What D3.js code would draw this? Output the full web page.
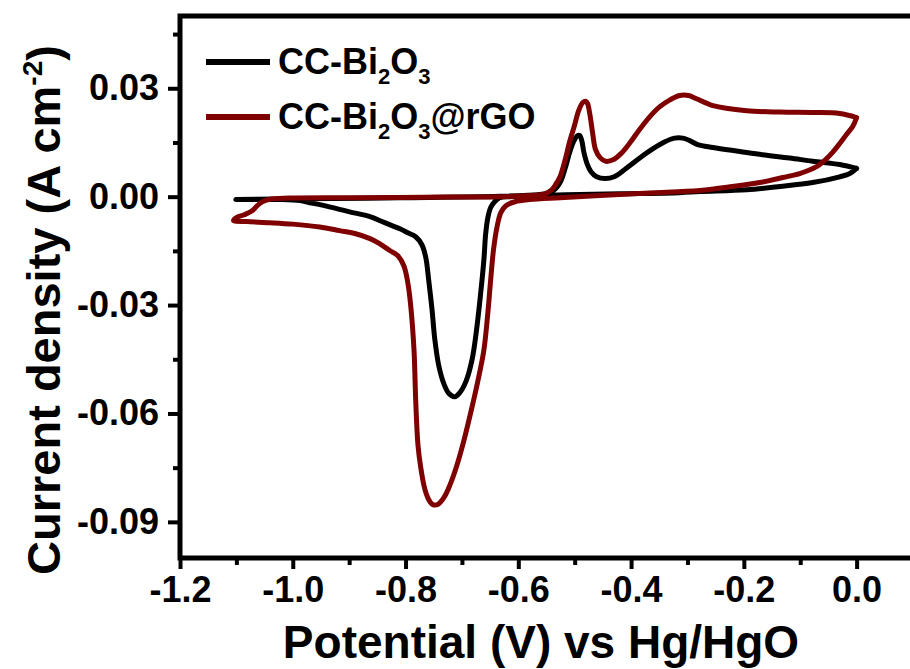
<!DOCTYPE html>
<html>
<head>
<meta charset="utf-8">
<script src="https://cdn.jsdelivr.net/npm/d3@7"></script>
<style>
  body { margin: 0; background: #fff; }
  svg text { font-family: "Liberation Sans", Arial, sans-serif; font-weight: bold; }
</style>
</head>
<body>
<div id="chart"></div>
<script>
// CV loops, [potential (V), current density (A cm-2)]
const bareCathodic = [
  [0.000, 0.0078], [-0.012, 0.0064], [-0.030, 0.0055], [-0.078, 0.0039], [-0.136, 0.0028],
  [-0.195, 0.0019], [-0.278, 0.0014], [-0.314, 0.0011], [-0.420, 0.0008], [-0.491, 0.0006],
  [-0.562, 0.0003], [-0.615, 0.0], [-0.633, -0.0003], [-0.642, -0.0014], [-0.649, -0.0030],
  [-0.654, -0.0058], [-0.658, -0.0105], [-0.661, -0.0174], [-0.667, -0.0271], [-0.674, -0.0368],
  [-0.682, -0.0451], [-0.693, -0.0512], [-0.704, -0.0543], [-0.713, -0.0554], [-0.723, -0.0545],
  [-0.732, -0.0518], [-0.741, -0.0468], [-0.748, -0.0396], [-0.753, -0.0313], [-0.759, -0.0230],
  [-0.764, -0.0169], [-0.771, -0.0133], [-0.782, -0.0111], [-0.796, -0.0100], [-0.810, -0.0089],
  [-0.837, -0.0072], [-0.863, -0.0055], [-0.899, -0.0042], [-0.922, -0.0033], [-0.952, -0.0022],
  [-0.970, -0.0017], [-0.987, -0.0011], [-1.023, -0.0008], [-1.101, -0.0008]
];
const bareAnodic = [
  [-1.101, -0.0007], [-0.987, -0.0006], [-0.810, -0.0003], [-0.633, 0.0001], [-0.562, 0.0006],
  [-0.544, 0.0011], [-0.534, 0.0022], [-0.525, 0.0042], [-0.516, 0.0083], [-0.509, 0.0122],
  [-0.502, 0.0152], [-0.495, 0.0169], [-0.491, 0.0169], [-0.487, 0.0152], [-0.484, 0.0125],
  [-0.478, 0.0091], [-0.471, 0.0069], [-0.461, 0.0055], [-0.446, 0.0050], [-0.430, 0.0055],
  [-0.409, 0.0078], [-0.384, 0.0108], [-0.361, 0.0133], [-0.340, 0.0152], [-0.323, 0.0162],
  [-0.308, 0.0162], [-0.296, 0.0155], [-0.282, 0.0144], [-0.255, 0.0136], [-0.207, 0.0125],
  [-0.167, 0.0116], [-0.119, 0.0107], [-0.078, 0.0098], [-0.030, 0.0089], [0.000, 0.0078]
];
const rgoCathodic = [
  [0.000, 0.0219], [-0.007, 0.0194], [-0.018, 0.0172], [-0.030, 0.0147], [-0.043, 0.0122],
  [-0.057, 0.0100], [-0.071, 0.0083], [-0.101, 0.0064], [-0.131, 0.0053], [-0.172, 0.0039],
  [-0.220, 0.0028], [-0.278, 0.0017], [-0.367, 0.0010], [-0.455, 0.0003], [-0.526, -0.0003],
  [-0.580, -0.0008], [-0.606, -0.0014], [-0.622, -0.0025], [-0.631, -0.0044], [-0.638, -0.0086],
  [-0.644, -0.0147], [-0.649, -0.0230], [-0.654, -0.0321], [-0.661, -0.0424], [-0.672, -0.0512],
  [-0.684, -0.0595], [-0.697, -0.0678], [-0.709, -0.0744], [-0.721, -0.0797], [-0.732, -0.0833],
  [-0.743, -0.0852], [-0.752, -0.0852], [-0.759, -0.0838], [-0.766, -0.0808], [-0.773, -0.0750],
  [-0.778, -0.0687], [-0.782, -0.0562], [-0.785, -0.0424], [-0.791, -0.0299], [-0.796, -0.0238],
  [-0.803, -0.0191], [-0.814, -0.0163], [-0.828, -0.0149], [-0.846, -0.0130], [-0.863, -0.0116],
  [-0.890, -0.0102], [-0.917, -0.0094], [-0.952, -0.0084], [-1.000, -0.0076], [-1.041, -0.0072],
  [-1.082, -0.0069], [-1.105, -0.0066]
];
const rgoAnodic = [
  [-1.105, -0.0066], [-1.100, -0.0058], [-1.086, -0.0050], [-1.072, -0.0039], [-1.063, -0.0025],
  [-1.054, -0.0014], [-1.041, -0.0007], [-1.006, -0.0004], [-0.899, -0.0003], [-0.722, -0.0001],
  [-0.633, 0.0], [-0.580, 0.0003], [-0.553, 0.0008], [-0.541, 0.0019], [-0.534, 0.0033],
  [-0.526, 0.0055], [-0.517, 0.0102], [-0.509, 0.0152], [-0.500, 0.0199], [-0.493, 0.0238],
  [-0.486, 0.0260], [-0.480, 0.0264], [-0.477, 0.0257], [-0.473, 0.0227], [-0.468, 0.0174],
  [-0.463, 0.0130], [-0.455, 0.0108], [-0.445, 0.0098], [-0.432, 0.0102], [-0.418, 0.0119],
  [-0.402, 0.0149], [-0.384, 0.0188], [-0.367, 0.0221], [-0.349, 0.0249], [-0.331, 0.0268],
  [-0.314, 0.0280], [-0.298, 0.0280], [-0.284, 0.0271], [-0.255, 0.0252], [-0.195, 0.0238],
  [-0.136, 0.0234], [-0.078, 0.0233], [-0.030, 0.0230], [0.000, 0.0219]
];

const xTicks = [-1.2, -1.0, -0.8, -0.6, -0.4, -0.2, 0.0];
const xMinorTicks = [-1.1, -0.9, -0.7, -0.5, -0.3, -0.1];
const yTicks = [0.03, 0.0, -0.03, -0.06, -0.09];
const yMinorTicks = [0.045, 0.015, -0.015, -0.045, -0.075];

const width = 910, height = 669;
const plotLeft = 180, plotTop = 16, plotRight = 913, plotBottom = 558;

const svg = d3.select('#chart').append('svg')
  .attr('width', width)
  .attr('height', height)
  .attr('viewBox', [0, 0, width, height]);

const x = d3.scaleLinear().domain([-1.2, 0.1]).range([plotLeft, plotRight]);
const y = d3.scaleLinear().domain([-0.1, 0.05]).range([plotBottom, plotTop]);

// curves
const line = d3.line()
  .x(d => x(d[0]))
  .y(d => y(d[1]))
  .curve(d3.curveCatmullRom.alpha(0.5));

const series = [
  {name: 'bare', pts: bareCathodic.concat(bareAnodic.slice(1)), color: '#000000'},
  {name: 'rgo', pts: rgoCathodic.concat(rgoAnodic.slice(1)), color: '#7f0000'}
];

svg.append('g').selectAll('path')
  .data(series)
  .join('path')
  .attr('d', d => line(d.pts))
  .attr('fill', 'none')
  .attr('stroke', d => d.color)
  .attr('stroke-width', 5)
  .attr('stroke-linejoin', 'round')
  .attr('stroke-linecap', 'round');

// axes
const styleAxis = g => {
  g.select('.domain').remove();
  g.selectAll('.tick line').attr('stroke', '#000').attr('stroke-width', 4);
  g.selectAll('.tick text').attr('fill', '#000').style('font-size', '36px');
};

svg.append('g')
  .attr('transform', `translate(0,${plotBottom})`)
  .call(d3.axisBottom(x).tickValues(xMinorTicks).tickSize(7).tickFormat(''))
  .call(styleAxis);

svg.append('g')
  .attr('transform', `translate(0,${plotBottom})`)
  .call(d3.axisBottom(x).tickValues(xTicks).tickSize(11).tickPadding(7))
  .call(styleAxis)
  .call(g => g.selectAll('.tick text').text(d => d3.format('.1f')(d).replace('−', '-')));

svg.append('g')
  .attr('transform', `translate(${plotLeft},0)`)
  .call(d3.axisLeft(y).tickValues(yMinorTicks).tickSize(7).tickFormat(''))
  .call(styleAxis);

svg.append('g')
  .attr('transform', `translate(${plotLeft},0)`)
  .call(d3.axisLeft(y).tickValues(yTicks).tickSize(12).tickPadding(9))
  .call(styleAxis)
  .call(g => g.selectAll('.tick text').text(d => d3.format('.2f')(d).replace('−', '-')));

// frame
svg.append('rect')
  .attr('x', plotLeft)
  .attr('y', plotTop)
  .attr('width', plotRight - plotLeft)
  .attr('height', plotBottom - plotTop)
  .attr('fill', 'none')
  .attr('stroke', '#000')
  .attr('stroke-width', 5);

// axis titles
svg.append('text')
  .attr('x', 541)
  .attr('y', 658)
  .attr('text-anchor', 'middle')
  .style('font-size', '46px')
  .text('Potential (V) vs Hg/HgO');

const yTitle = svg.append('text')
  .attr('transform', 'translate(60,310) rotate(-90)')
  .attr('text-anchor', 'middle')
  .style('font-size', '47px');
yTitle.append('tspan').text('Current density (A cm');
yTitle.append('tspan').attr('dy', -18).style('font-size', '28px').text('-2');
yTitle.append('tspan').attr('dy', 18).text(')');

// legend
const legend = [
  {label: ['CC-Bi', '2', 'O', '3', ''], color: '#000000', y: 62},
  {label: ['CC-Bi', '2', 'O', '3', '@rGO'], color: '#7f0000', y: 117}
];
const lg = svg.append('g');
legend.forEach(d => {
  lg.append('line')
    .attr('x1', 206).attr('x2', 270)
    .attr('y1', d.y).attr('y2', d.y)
    .attr('stroke', d.color)
    .attr('stroke-width', 6);
  const t = lg.append('text')
    .attr('x', 278)
    .attr('y', d.y + 12)
    .style('font-size', '36px');
  t.append('tspan').text(d.label[0]);
  t.append('tspan').attr('dy', 10).style('font-size', '22px').text(d.label[1]);
  t.append('tspan').attr('dy', -10).text(d.label[2]);
  t.append('tspan').attr('dy', 10).style('font-size', '22px').text(d.label[3]);
  if (d.label[4]) t.append('tspan').attr('dy', -10).text(d.label[4]);
});
</script>
</body>
</html>
